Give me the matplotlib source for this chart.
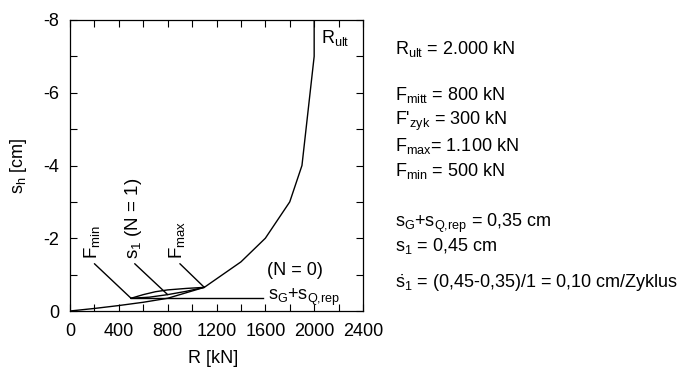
import matplotlib
matplotlib.use("Agg")
import matplotlib.pyplot as plt
from matplotlib.ticker import MultipleLocator

plt.rcParams['font.family'] = ['Liberation Sans', 'DejaVu Sans']
plt.rcParams['mathtext.fontset'] = 'custom'
plt.rcParams['mathtext.rm'] = 'Liberation Sans'
plt.rcParams['mathtext.it'] = 'Liberation Sans:italic'
plt.rcParams['mathtext.bf'] = 'Liberation Sans:bold'
plt.rcParams['axes.unicode_minus'] = False

# virgin loading curve (N = 0) up to failure
virgin_R = [0, 200, 400, 600, 800, 1100, 1400, 1600, 1800, 1900, 2000, 2000]
virgin_s = [0, -0.07, -0.15, -0.24, -0.35, -0.65, -1.35, -2.0, -3.0, -4.0, -7.0, -8.0]

# first load cycle between F_min and F_max
upper_R = [500, 600, 700, 800, 950, 1100]
upper_s = [-0.35, -0.45, -0.53, -0.58, -0.62, -0.65]
lower_R = [500, 650, 800, 950, 1100]
lower_s = [-0.35, -0.38, -0.45, -0.54, -0.65]

# s_G + s_Q,rep reference line
ref_R = [500, 1580]
ref_s = [-0.35, -0.35]

F_min, s_Fmin = 500, -0.35
F_max, s_Fmax = 1100, -0.65
R_s1, s_1 = 800, -0.45

info_lines = [
    r"R$_{\mathrm{ult}}$ = 2.000 kN",
    r"F$_{\mathrm{mitt}}$ = 800 kN",
    r"F'$_{\mathrm{zyk}}$ = 300 kN",
    r"F$_{\mathrm{max}}$= 1.100 kN",
    r"F$_{\mathrm{min}}$ = 500 kN",
    r"s$_{\mathrm{G}}$+s$_{\mathrm{Q{,}rep}}$ = 0,35 cm",
    r"s$_{\mathrm{1}}$ = 0,45 cm",
    r"$\dot{\mathrm{s}}_{\mathrm{1}}$ = (0,45-0,35)/1 = 0,10 cm/Zyklus",
]
info_baselines = [54, 100, 125, 151, 176, 227, 251, 288]  # pixel rows from top

W, H = 692, 371
fig = plt.figure(figsize=(W / 100, H / 100), dpi=100)
ax = fig.add_axes([70 / W, 1 - 311 / H, 293 / W, 291 / H])

lw = 1.0
ax.plot(virgin_R, virgin_s, color='black', lw=lw)
ax.plot(upper_R, upper_s, color='black', lw=lw)
ax.plot(lower_R, lower_s, color='black', lw=lw)
ax.plot(ref_R, ref_s, color='black', lw=lw)

fs = 13
lead = dict(arrowstyle='-', color='black', lw=lw, shrinkA=0, shrinkB=0)
ax.annotate('', xy=(F_min, s_Fmin), xytext=(200, -1.3), arrowprops=lead)
ax.annotate('', xy=(R_s1, s_1), xytext=(530, -1.3), arrowprops=lead)
ax.annotate('', xy=(F_max, s_Fmax), xytext=(900, -1.3), arrowprops=lead)

ax.text(180, -1.42, r"F$_{\mathrm{min}}$", rotation=90, ha='center', va='bottom', fontsize=fs + 0.5)
ax.text(520, -1.42, r"s$_{\mathrm{1}}$ (N = 1)", rotation=90, ha='center', va='bottom', fontsize=fs + 0.5)
ax.text(875, -1.42, r"F$_{\mathrm{max}}$", rotation=90, ha='center', va='bottom', fontsize=fs + 0.5)
ax.text(1610, -1.1, "(N = 0)", ha='left', va='center', fontsize=fs)
ax.text(1620, -0.3, r"s$_{\mathrm{G}}$+s$_{\mathrm{Q{,}rep}}$", ha='left', va='baseline', fontsize=fs)
ax.text(2060, -7.5, r"R$_{\mathrm{ult}}$", ha='left', va='center', fontsize=fs)

ax.set_xlim(0, 2400)
ax.set_ylim(0, -8)
ax.xaxis.set_major_locator(MultipleLocator(400))
ax.xaxis.set_minor_locator(MultipleLocator(200))
ax.yaxis.set_major_locator(MultipleLocator(2))
ax.yaxis.set_minor_locator(MultipleLocator(1))
ax.tick_params(which='both', direction='in', top=True, right=True, length=5, width=0.8, labelsize=fs)
ax.tick_params(axis='x', pad=9)
ax.tick_params(axis='y', pad=8)
for sp in ax.spines.values():
    sp.set_linewidth(0.9)

ax.set_xlabel("R [kN]", fontsize=fs)
ax.set_ylabel(r"s$_{\mathrm{h}}$ [cm]", fontsize=fs)
ax.xaxis.set_label_coords(0.49, -0.135)
ax.yaxis.set_label_coords(-0.14, 0.5)

for txt, yb in zip(info_lines, info_baselines):
    fig.text(395 / W, 1 - yb / H, txt, ha='left', va='baseline', fontsize=fs)

fig.savefig("out.png", dpi=100)
